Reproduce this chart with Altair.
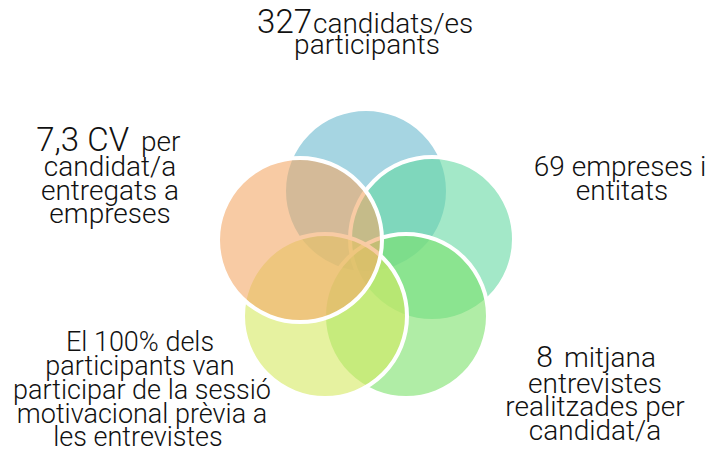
import altair as alt
import pandas as pd

# Circles (page-pixel coordinate system)
circle_names = ["participants", "empreses", "entrevistes", "sessio", "cv"]
circle_x = [366, 432, 406, 325, 300]
circle_y = [191, 239, 316, 316, 240]
circle_colors = ["#6bb9cf", "#66d9a3", "#7be16b", "#d5e961", "#f3a867"]

# Text labels (centred lines)
center_text = ["participants",
               "candidat/a", "entregats a", "empreses",
               "69 empreses i", "entitats",
               "El 100% dels", "participants van", "participar de la sessió",
               "motivacional prèvia a", "les entrevistes",
               "entrevistes", "realitzades per", "candidat/a"]
center_x = [367,
            110, 110, 110,
            620, 622,
            140, 140, 142, 142, 138,
            595, 595, 595]
center_y = [54,
            176, 200, 223,
            176, 200,
            351, 375, 399, 423, 446,
            393, 416, 440]
center_size = [28,
               28, 28, 28,
               28, 28,
               27, 27, 27, 27, 27,
               28, 28, 28]

# Lines made of a large part (right-aligned) followed by a smaller part (left-aligned)
big_text = ["327", "7,3 CV", "8"]
big_x = [312, 129, 553]
big_y = [33, 151, 367]
big_size = [33, 33, 30]

small_after_text = ["candidats/es", "per", "mitjana"]
small_after_x = [313, 141, 564]
small_after_y = [33, 151, 367]
small_after_size = [28, 28, 28]

W, H = 699, 438
xs = alt.Scale(domain=[8, 8 + W], range=[0, W])
ys = alt.Scale(domain=[8, 8 + H], range=[0, H])

circles = pd.DataFrame({"name": circle_names, "x": circle_x, "y": circle_y,
                        "color": circle_colors, "order": list(range(5))})

base_font = "Roboto"
R = 82

c_layer = alt.Chart(circles).mark_circle(
    size=(2 * R) ** 2, opacity=1, fillOpacity=0.6,
    stroke="white", strokeWidth=4, strokeOpacity=1
).encode(
    x=alt.X("x:Q", scale=xs, axis=None),
    y=alt.Y("y:Q", scale=ys, axis=None),
    color=alt.Color("color:N", scale=None),
    order=alt.Order("order:Q")
)

X = alt.X("x:Q", scale=xs, axis=None)
Y = alt.Y("y:Q", scale=ys, axis=None)

df_c = pd.DataFrame({"t": center_text, "x": center_x, "y": center_y, "s": center_size})
t_center = alt.Chart(df_c).mark_text(
    font=base_font, fontWeight=300, align="center",
    baseline="alphabetic", color="#111111"
).encode(x=X, y=Y, text="t:N", size=alt.Size("s:Q", scale=None, legend=None))

df_b = pd.DataFrame({"t": big_text, "x": big_x, "y": big_y, "s": big_size})
t_big = alt.Chart(df_b).mark_text(
    font=base_font, fontWeight=300, align="right",
    baseline="alphabetic", color="#111111"
).encode(x=X, y=Y, text="t:N", size=alt.Size("s:Q", scale=None, legend=None))

df_s = pd.DataFrame({"t": small_after_text, "x": small_after_x, "y": small_after_y,
                     "s": small_after_size})
t_small = alt.Chart(df_s).mark_text(
    font=base_font, fontWeight=300, align="left",
    baseline="alphabetic", color="#111111"
).encode(x=X, y=Y, text="t:N", size=alt.Size("s:Q", scale=None, legend=None))

chart = alt.layer(c_layer, t_center, t_big, t_small).properties(
    width=W, height=H, padding=0, autosize=alt.AutoSizeParams(type="none")
).configure_view(stroke=None)

chart.save("out.html", embed_options={"renderer": "svg", "actions": False})
